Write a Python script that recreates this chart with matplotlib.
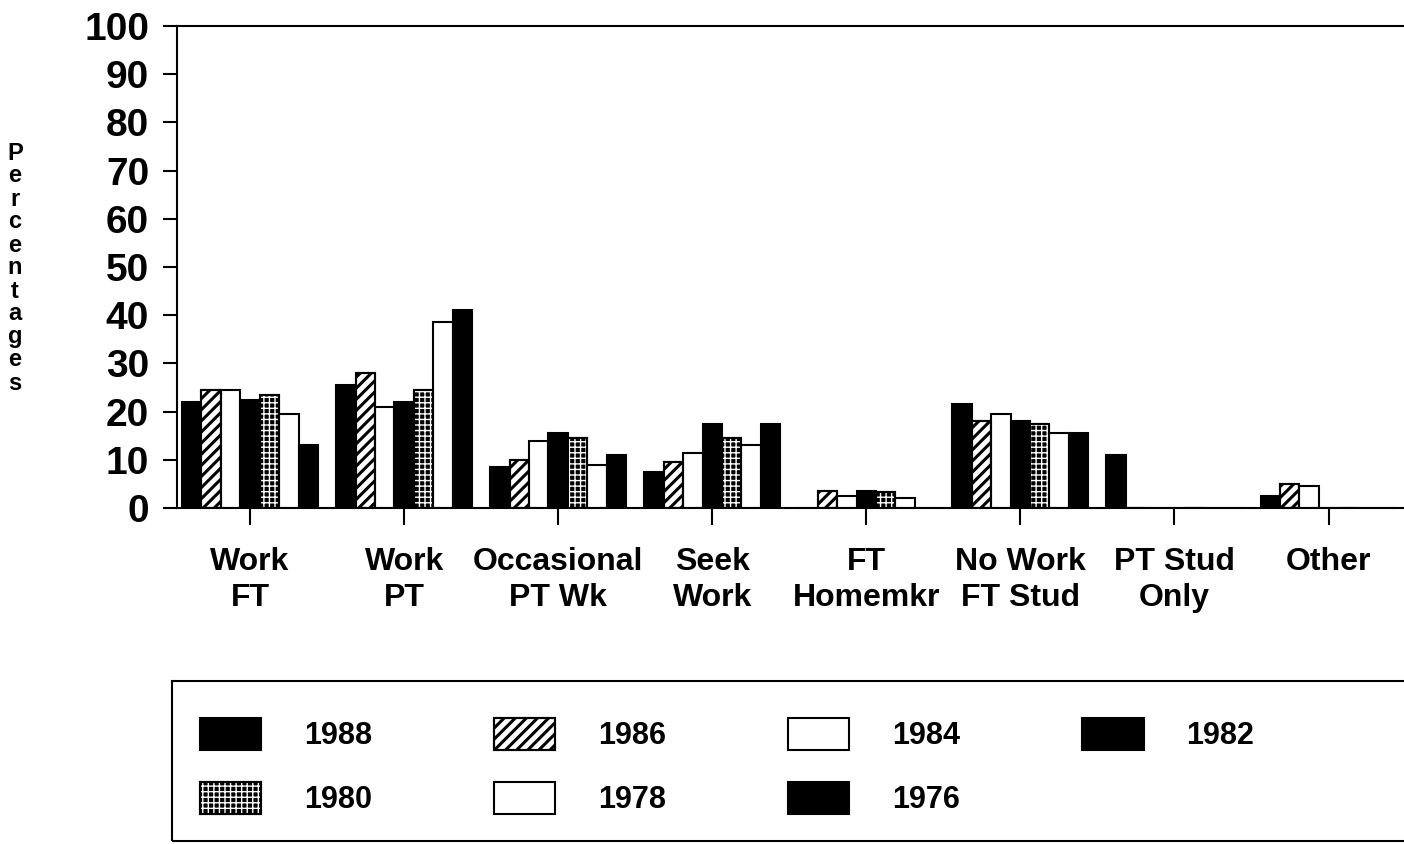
import numpy as np
import matplotlib
matplotlib.use("Agg")
import matplotlib.pyplot as plt
from matplotlib.patches import Rectangle
from matplotlib.legend_handler import HandlerTuple

plt.rcParams['font.family'] = ['Liberation Sans', 'DejaVu Sans']
plt.rcParams['font.weight'] = 'bold'
plt.rcParams['hatch.linewidth'] = 2.0

categories = ["Work\nFT", "Work\nPT", "Occasional\nPT Wk", "Seek\nWork",
              "FT\nHomemkr", "No Work\nFT Stud", "PT Stud\nOnly", "Other"]
years = ["1988", "1986", "1984", "1982", "1980", "1978", "1976"]

pct_1988 = [22, 25.5, 8.5, 7.5, 0, 21.5, 11, 2.5]
pct_1986 = [24.5, 28, 10, 9.5, 3.5, 18, 0, 5]
pct_1984 = [24.5, 21, 14, 11.5, 2.5, 19.5, 0, 4.5]
pct_1982 = [22.5, 22, 15.5, 17.5, 3.5, 18, 0, 0]
pct_1980 = [23.5, 24.5, 14.5, 14.5, 3.3, 17.5, 0, 0]
pct_1978 = [19.5, 38.5, 9, 13, 2, 15.5, 0, 0]
pct_1976 = [13, 41, 11, 17.5, 0, 15.5, 0, 0]

series = [pct_1988, pct_1986, pct_1984, pct_1982, pct_1980, pct_1978, pct_1976]

# fill, hatch, hatch colour, hatch width for each year
styles = [
    ("black", None, None, 0),
    ("white", "///", "black", 2.2),
    ("white", None, None, 0),
    ("black", None, None, 0),
    ("black", "+++", "white", 1.0),
    ("white", None, None, 0),
    ("black", None, None, 0),
]
hatch_widths = {s[1]: s[3] for s in styles if s[1]}


def hatch_width(patch, w):
    if hasattr(patch, "set_hatch_linewidth"):
        patch.set_hatch_linewidth(w)


fig = plt.figure(figsize=(14.04, 8.44), dpi=100)
ax = fig.add_axes([177 / 1404, 1 - 508 / 844, 1 - 177 / 1404, 482 / 844])

x = np.arange(len(categories))
width = 0.126
handles = {}
for i, (year, vals) in enumerate(zip(years, series)):
    face, hatch, hcolor, hw = styles[i]
    pos = x + (i - 3) * width
    ax.bar(pos, vals, width, color=face, edgecolor="black", linewidth=1.5, zorder=2)
    parts = [Rectangle((0, 0), 1, 1, facecolor=face, edgecolor="black", linewidth=1.5)]
    if hatch:
        hb = ax.bar(pos, vals, width, fill=False, edgecolor=hcolor, hatch=hatch,
                    linewidth=0, zorder=3)
        for p in hb:
            hatch_width(p, hw)
        ax.bar(pos, vals, width, fill=False, edgecolor="black", linewidth=1.5, zorder=4)
        hp = Rectangle((0, 0), 1, 1, fill=False, edgecolor=hcolor, hatch=hatch, linewidth=0)
        parts.append(hp)
        parts.append(Rectangle((0, 0), 1, 1, fill=False, edgecolor="black", linewidth=1.5))
    handles[year] = tuple(parts)

ax.set_xlim(-0.474, 7.49)
ax.set_ylim(0, 100)
ax.set_yticks(np.arange(0, 101, 10))
ax.set_xticks(x)
ax.set_xticklabels(categories, fontsize=23, fontweight="bold", linespacing=1.25)
ax.tick_params(axis="y", direction="out", length=10, width=1.5, pad=10, labelsize=28)
ax.tick_params(axis="x", direction="out", length=12, width=1.5, pad=16)
for lab in ax.get_yticklabels():
    lab.set_fontweight("bold")
ax.spines["right"].set_visible(False)
for s in ["left", "top", "bottom"]:
    ax.spines[s].set_linewidth(1.5)

fig.text(15 / 1404, 1 - 268 / 844, "\n".join("Percentages"), ha="center", va="center",
         fontsize=17, fontweight="bold", linespacing=1.0)

# legend, row-wise order 1988 1986 1984 1982 / 1980 1978 1976
order = ["1988", "1980", "1986", "1978", "1984", "1976", "1982"]
leg = fig.legend([handles[y] for y in order], order, loc="upper left",
                 bbox_to_anchor=(200 / 1404, 1 - 718 / 844), bbox_transform=fig.transFigure,
                 ncol=4, frameon=False, prop={"weight": "bold", "size": 22},
                 handlelength=2.0, handleheight=1.25, handletextpad=1.4,
                 columnspacing=4.0, labelspacing=1.0, borderpad=0, borderaxespad=0,
                 handler_map={tuple: HandlerTuple(ndivide=1)})
for p in leg.findobj(Rectangle):
    if p.get_hatch() in hatch_widths:
        hatch_width(p, hatch_widths[p.get_hatch()])
fig.add_artist(Rectangle((172 / 1404, 3 / 844), 0.9, 160 / 844, transform=fig.transFigure,
                         fill=False, edgecolor="black", linewidth=1.5))

fig.savefig("out.png", dpi=100)
